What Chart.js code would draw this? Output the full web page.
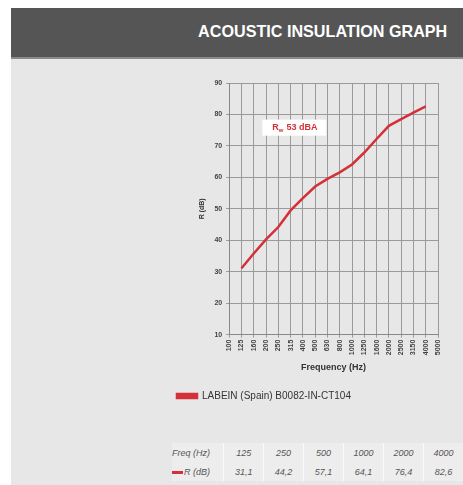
<!DOCTYPE html>
<html>
<head>
<meta charset="utf-8">
<script src="https://cdn.jsdelivr.net/npm/chart.js@4.4.1/dist/chart.umd.min.js"></script>
<style>
  body { margin: 0; width: 463px; height: 485px; background: #fff; position: relative; overflow: hidden; font-family: "Liberation Sans", Arial, sans-serif; }
  #panel { position: absolute; left: 11px; top: 8px; right: 0; bottom: 0; background: #e7e7e7; }
  #header { position: absolute; left: 11px; top: 8px; right: 0; height: 49px; background: #555555; border-bottom: 2px solid #8a8a8a; }
  #header span { position: absolute; right: 16px; top: 14px; color: #fff; font-weight: bold; font-size: 17px; transform: scaleX(0.95); transform-origin: right center; white-space: nowrap; }
  #wrap { position: absolute; left: 163px; top: 70px; width: 287px; height: 341px; }
  #tbl { position: absolute; left: 172px; top: 443px; border-collapse: collapse; font-size: 9px; font-style: italic; color: #555; background: #ededed; }
  #tbl td { padding: 0; height: 19px; text-align: center; border-left: 1px solid #fafafa; width: 40px; }
  #tbl td:first-child { border-left: none; width: 53px; text-align: left; }
  .mk { display: inline-block; width: 11px; height: 3px; background: #d4303a; vertical-align: middle; margin-right: 1px; }
</style>
</head>
<body>
<div id="panel"></div>
<div id="header"><span>ACOUSTIC INSULATION GRAPH</span></div>
<div id="wrap"><canvas id="insulationChart"></canvas></div>
<table id="tbl"></table>
<script>
// 1/3 옥타브 대역 (Hz)
const freqLabels = ['100', '125', '160', '200', '250', '315', '400', '500', '630', '800',
                    '1000', '1250', '1600', '2000', '2500', '3150', '4000', '5000'];
// 측정값 R (dB)
const rValues = [null, 31.1, 35.8, 40.3, 44.2, 49.5, 53.4, 57.1, 59.5, 61.6,
                 64.1, 67.9, 72.2, 76.4, 78.5, 80.6, 82.6, null];
const seriesLabel = 'LABEIN (Spain) B0082-IN-CT104';
// 옥타브 표
const octaveFreqs = ['125', '250', '500', '1000', '2000', '4000'];
const octaveValues = ['31,1', '44,2', '57,1', '64,1', '76,4', '82,6'];
const ratingText = '53 dBA';

// 표 만들기
function buildTable() {
    const tbl = document.getElementById('tbl');
    const row1 = '<tr><td>Freq (Hz)</td>' + octaveFreqs.map(f => `<td>${f}</td>`).join('') + '</tr>';
    const row2 = '<tr><td><span class="mk"></span>R (dB)</td>' + octaveValues.map(v => `<td>${v}</td>`).join('') + '</tr>';
    tbl.innerHTML = row1 + row2;
}

// Rw 라벨 플러그인
const ratingBox = {
    id: 'ratingBox',
    afterDatasetsDraw(chart) {
        const { ctx, scales: { x, y } } = chart;
        const cx = x.getPixelForValue(5.3);
        const cy = y.getPixelForValue(75.8);
        ctx.save();
        ctx.fillStyle = '#ffffff';
        ctx.fillRect(cx - 32, cy - 8, 64, 16);
        ctx.fillStyle = '#d4303a';
        ctx.font = 'bold 9px "Liberation Sans", Arial, sans-serif';
        ctx.textBaseline = 'middle';
        ctx.textAlign = 'left';
        let px = cx - 22;
        ctx.fillText('R', px, cy);
        px += ctx.measureText('R').width;
        ctx.font = 'bold 6px "Liberation Sans", Arial, sans-serif';
        ctx.fillText('w', px, cy + 3);
        px += ctx.measureText('w').width + 3;
        ctx.font = 'bold 9px "Liberation Sans", Arial, sans-serif';
        ctx.fillText(ratingText, px, cy);
        ctx.restore();
    }
};

function renderChart() {
    const ctx = document.getElementById('insulationChart').getContext('2d');
    new Chart(ctx, {
        type: 'line',
        data: {
            labels: freqLabels,
            datasets: [{
                label: seriesLabel,
                data: rValues,
                borderColor: '#d4303a',
                backgroundColor: '#d4303a',
                borderWidth: 2.5,
                pointRadius: 0,
                tension: 0,
                spanGaps: false
            }]
        },
        options: {
            responsive: true,
            maintainAspectRatio: false,
            animation: false,
            layout: { padding: { top: 13, right: 12, left: 0 } },
            scales: {
                x: {
                    offset: false,
                    grid: { color: '#9a9a9a', lineWidth: 1, tickLength: 3 },
                    border: { color: '#888' },
                    ticks: { color: '#444', font: { size: 7, weight: 'bold' }, minRotation: 90, maxRotation: 90, autoSkip: false, padding: 2 },
                    title: { display: true, text: 'Frequency (Hz)', color: '#333', font: { size: 9, weight: 'bold' }, padding: { top: 5, bottom: 4 } }
                },
                y: {
                    min: 10,
                    max: 90,
                    grid: { color: '#9a9a9a', lineWidth: 1, tickLength: 3 },
                    border: { color: '#888' },
                    ticks: { stepSize: 10, color: '#444', font: { size: 7, weight: 'bold' }, padding: 4 },
                    title: { display: true, text: 'R (dB)', color: '#333', font: { size: 7, weight: 'bold' }, padding: { top: 35, bottom: 4 } }
                }
            },
            plugins: {
                legend: {
                    position: 'bottom',
                    align: 'start',
                    labels: { boxWidth: 20, boxHeight: 4, color: '#333', font: { size: 10 }, padding: 14 }
                },
                tooltip: { enabled: false }
            }
        },
        plugins: [ratingBox]
    });
}

buildTable();
renderChart();
</script>
</body>
</html>
